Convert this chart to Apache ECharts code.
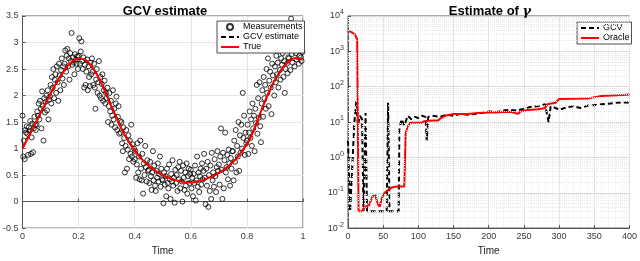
<!DOCTYPE html>
<html><head><meta charset="utf-8">
<script src="https://cdn.jsdelivr.net/npm/echarts@6/dist/echarts.min.js"></script>
<style>html,body{margin:0;padding:0;background:#fff}#c{width:640px;height:261px}</style>
</head><body><div id="c"></div>
<script>
// ---------- Left panel: measurements (400 samples on uniform grid over [0,1)) ----------
const measValue = [
 1.62,0.85,1.15,0.80,1.35,1.30,1.42,1.28,0.88,1.40,1.33,1.52,0.90,1.21,1.47,0.93,1.38,1.60,1.45,1.35,
 1.45,1.70,1.62,1.85,1.55,1.90,1.75,1.38,2.08,1.80,1.15,1.95,1.68,1.88,2.00,1.72,2.10,1.55,1.92,1.98,
 2.20,1.85,2.35,2.15,2.50,1.95,2.30,2.40,2.05,2.55,2.25,1.90,2.60,2.38,2.10,2.48,2.70,2.32,2.55,2.20,
 2.60,2.85,2.45,2.75,2.88,2.55,2.70,2.30,2.80,2.65,3.18,2.58,2.72,2.62,2.40,2.78,2.68,2.60,2.74,2.50,
 2.75,3.08,2.60,2.83,3.02,2.65,2.50,2.72,2.15,2.58,2.20,2.45,2.68,2.10,2.55,2.35,2.18,2.62,2.40,2.70,
 2.45,2.20,2.60,2.15,1.75,2.30,2.50,2.05,2.25,2.65,2.00,2.35,1.95,2.22,2.40,1.90,2.10,2.28,1.85,2.05,
 1.95,2.15,1.50,1.80,2.05,1.70,1.90,1.45,1.62,2.10,1.55,1.75,1.40,1.85,1.98,1.35,1.60,1.80,1.28,1.52,
 1.30,1.50,1.10,0.95,1.40,1.20,0.55,1.05,1.35,0.62,0.98,1.25,0.80,1.15,0.90,1.45,0.85,1.08,0.75,1.00,
 0.80,0.95,0.45,0.70,1.10,0.55,0.85,0.42,1.15,0.62,0.40,0.90,0.15,0.72,0.50,1.05,0.65,0.38,0.78,0.58,
 0.60,0.35,0.75,0.48,0.22,0.55,0.95,0.40,0.68,0.30,0.20,0.58,0.45,0.72,0.38,0.52,0.85,0.28,0.62,0.42,
 0.40,-0.03,0.55,0.32,0.48,0.10,0.62,0.35,0.25,0.70,0.42,0.05,0.52,0.38,0.78,0.30,0.45,-0.02,0.60,0.35,
 0.50,0.20,0.65,0.42,0.75,0.25,0.58,0.38,0.00,0.68,0.45,0.22,0.55,0.30,0.72,0.15,0.48,0.62,0.35,0.52,
 0.60,0.25,0.45,0.10,0.52,0.35,0.68,0.02,0.40,0.85,0.28,0.55,0.18,0.48,0.62,0.32,0.72,0.42,0.58,0.90,
 0.45,-0.05,0.62,0.30,0.75,-0.10,0.50,0.20,0.68,0.05,0.92,0.40,0.55,0.28,0.80,0.48,0.18,0.65,0.95,0.58,
 0.70,0.32,0.85,1.38,0.60,0.05,0.92,0.25,0.78,1.30,0.55,0.65,0.88,0.42,0.98,0.72,0.30,0.82,0.62,0.95,
 0.95,0.40,1.15,0.75,1.35,0.55,1.05,0.85,1.50,0.58,1.25,0.92,1.45,1.00,2.05,1.20,1.62,0.88,1.30,1.10,
 1.15,1.45,0.90,1.30,1.70,1.20,1.55,1.05,1.85,1.38,1.62,0.95,1.75,1.48,2.20,1.28,1.95,1.58,2.25,1.42,
 1.12,1.85,2.10,1.60,2.35,1.95,2.20,1.75,2.50,2.05,2.70,1.80,2.28,2.45,2.15,1.65,2.60,2.38,2.85,2.00,
 2.55,2.25,2.75,2.40,2.62,2.15,2.85,2.48,2.30,2.70,2.58,2.80,2.35,2.65,2.05,2.50,2.88,2.60,2.42,2.72,
 2.70,2.85,2.48,3.45,2.78,2.62,3.05,2.90,2.55,3.25,2.80,2.68,2.92,2.88,2.60,2.75,2.85,2.72,2.65,2.82
];
const trueTime  = [0,0.025,0.05,0.075,0.1,0.125,0.15,0.175,0.2,0.225,0.25,0.275,0.3,0.325,0.35,0.375,0.4,0.425,0.45,0.475,0.5,0.525,0.55,0.575,0.6,0.625,0.65,0.675,0.7,0.725,0.75,0.775,0.8,0.825,0.85,0.875,0.9,0.925,0.95,0.975,1.0];
const trueValue = [1.00,1.26,1.52,1.78,2.03,2.28,2.48,2.63,2.70,2.67,2.52,2.30,2.00,1.70,1.40,1.17,0.96,0.80,0.68,0.58,0.50,0.44,0.40,0.37,0.36,0.38,0.42,0.47,0.54,0.63,0.74,0.90,1.08,1.35,1.70,2.02,2.30,2.50,2.64,2.71,2.68];
const gcvEstValue = [1.01,1.27,1.52,1.78,2.03,2.27,2.47,2.62,2.69,2.66,2.52,2.30,2.01,1.71,1.41,1.17,0.97,0.80,0.68,0.58,0.50,0.44,0.40,0.38,0.37,0.38,0.42,0.47,0.54,0.63,0.75,0.90,1.09,1.35,1.69,2.01,2.29,2.50,2.64,2.70,2.67];

// ---------- Right panel: gamma estimates ----------
const gcvTime  = [0,3,6,9,12,14,17,20,22,25,27,55,57,59,72,73,76,80,85,90,95,100,105,110,112,114,120,130,140,150,160,170,180,190,200,210,220,230,240,250,260,270,280,285,288,295,300,310,320,330,340,350,360,370,380,390,400];
const gcvValue = [3,0.03,0.5,10,40,8,15,12,0.03,18,0.03,0.03,35,0.03,0.03,6,12,8,15,12,14,13,15,14,3,14,15,14,16,15,17,16,17,18,20,19,21,22,21,24,27,28,32,10,28,25,22,26,28,25,29,30,32,33,35,36,36];
const oracleTime  = [0,5,10,13,15,20,24,30,35,39,42,45,48,52,57,62,70,80,82,85,88,105,108,120,128,132,138,145,150,170,185,200,215,230,242,245,255,270,280,283,295,300,340,360,390,400];
const oracleValue = [3800,3500,3000,2200,0.03,0.03,0.04,0.045,0.08,0.085,0.05,0.04,0.07,0.1,0.12,0.14,0.15,0.15,5,7.5,9.5,9.5,10.5,11,11,13,15,16,17,17,18,18.5,19,19.5,17,20,22,23,25,32,35,45,46,55,58,60];
const decades = [-2,-1,0,1,2,3];
const minorMult = [2,3,4,5,6,7,8,9];

const FONT = 'Liberation Sans, Arial, Helvetica, sans-serif';
const zip = (a,b) => a.map((v,i)=>[v,b[i]]);
const N = measValue.length;
const measData = measValue.map((v,i)=>[i/N, v]);

const minorLines = [];
decades.forEach(d => minorMult.forEach(k => minorLines.push({yAxis: k*Math.pow(10,d)})));

const axisLabel = {color:'#3a3a3a', fontSize:9, fontFamily:FONT, margin:4};
const axisLine = {show:true, lineStyle:{color:'#555', width:1}};
const axisTick = {show:true, inside:true, length:3, lineStyle:{color:'#555'}};
const hideSym = {itemStyle:{opacity:0}};
const legendBase = {orient:'vertical', itemGap:0, itemWidth:18, itemHeight:6, padding:[1,2,1,3],
  backgroundColor:'#fff', borderColor:'#222', borderWidth:0.8, borderRadius:0,
  textStyle:{fontFamily:FONT, fontSize:9, color:'#000', lineHeight:10, padding:[0,0,0,-1]}};

const chart = echarts.init(document.getElementById('c'), null, {renderer:'canvas'});
chart.setOption({
  animation:false,
  backgroundColor:'#fff',
  title:[
    {text:'GCV estimate', left:160, top:0, textAlign:'center', textStyle:{fontFamily:FONT, fontSize:13, fontWeight:'bold', color:'#000'}},
    {text:'{a|Estimate of }{g|γ}', left:485, top:0, textAlign:'center', textStyle:{rich:{
      a:{fontFamily:FONT, fontSize:13, fontWeight:'bold', color:'#000'},
      g:{fontFamily:'DejaVu Serif, serif', fontSize:13, fontStyle:'italic', color:'#000'}}}}
  ],
  grid:[
    {left:18, top:16, width:285, height:224, show:true, borderColor:'#555', borderWidth:1, backgroundColor:'#fff'},
    {left:348, top:16, width:285, height:224, show:true, borderColor:'#555', borderWidth:1, backgroundColor:'#fff'}
  ],
  legend:[
    Object.assign({}, legendBase, {left:217, top:21,
      data:['Measurements', Object.assign({name:'GCV estimate'}, hideSym), Object.assign({name:'True'}, hideSym)]}),
    Object.assign({}, legendBase, {left:577, top:22,
      data:[Object.assign({name:'GCV'}, hideSym), Object.assign({name:'Oracle'}, hideSym)]})
  ],
  xAxis:[
    {type:'value', gridIndex:0, min:0, max:1, interval:0.2, name:'Time', nameLocation:'middle', nameGap:13,
     nameTextStyle:{fontFamily:FONT, fontSize:10, color:'#222'},
     axisLabel:Object.assign({}, axisLabel, {formatter:v=>String(Math.round(v*10)/10)}), axisLine, axisTick,
     splitLine:{show:true, lineStyle:{color:'#e6e6e6', width:1}}},
    {type:'value', gridIndex:1, min:0, max:400, interval:50, name:'Time', nameLocation:'middle', nameGap:13,
     nameTextStyle:{fontFamily:FONT, fontSize:10, color:'#222'},
     axisLabel, axisLine, axisTick,
     splitLine:{show:true, lineStyle:{color:'#e3e3e3', width:1}},
     minorTick:{show:false, splitNumber:5},
     minorSplitLine:{show:true, lineStyle:{color:'#eeeeee', type:'dotted', width:1}}}
  ],
  yAxis:[
    {type:'value', gridIndex:0, min:-0.5, max:3.5, interval:0.5,
     axisLabel:Object.assign({}, axisLabel, {formatter:v=>String(v)}), axisLine, axisTick,
     splitLine:{show:true, lineStyle:{color:'#e6e6e6', width:1}}},
    {type:'log', gridIndex:1, logBase:10, min:0.01, max:10000,
     axisLabel:Object.assign({}, axisLabel, {formatter:v=>'{b|10}{e|'+Math.round(Math.log10(v))+'}',
       rich:{b:{fontSize:9, fontFamily:FONT, color:'#3a3a3a'}, e:{fontSize:7, fontFamily:FONT, color:'#3a3a3a', verticalAlign:'bottom', padding:[0,0,7,0]}}}),
     axisLine, axisTick,
     splitLine:{show:true, lineStyle:{color:'#dcdcdc', width:1}}}
  ],
  series:[
    {name:'minor', type:'line', xAxisIndex:1, yAxisIndex:1, data:[], silent:true, z:1,
     markLine:{silent:true, symbol:'none', animation:false, label:{show:false},
       lineStyle:{color:'#e6e6e6', type:'dotted', width:1}, data:minorLines}},
    {name:'Measurements', type:'scatter', xAxisIndex:0, yAxisIndex:0, data:measData,
     symbol:'circle', symbolSize:5, itemStyle:{color:'rgba(255,255,255,0)', borderColor:'#000', borderWidth:1}, z:2},
    {name:'GCV estimate', type:'line', xAxisIndex:0, yAxisIndex:0, data:zip(trueTime,gcvEstValue),
     showSymbol:false, symbol:'none', smooth:true, lineStyle:{color:'#000', width:2, type:[5,3]}, itemStyle:{color:'#000'}, z:3},
    {name:'True', type:'line', xAxisIndex:0, yAxisIndex:0, data:zip(trueTime,trueValue),
     showSymbol:false, symbol:'none', smooth:true, lineStyle:{color:'#ff0000', width:2}, itemStyle:{color:'#ff0000'}, z:4},
    {name:'GCV', type:'line', xAxisIndex:1, yAxisIndex:1, data:zip(gcvTime,gcvValue),
     showSymbol:false, symbol:'none', lineStyle:{color:'#000', width:2, type:[5,3]}, itemStyle:{color:'#000'}, z:3},
    {name:'Oracle', type:'line', xAxisIndex:1, yAxisIndex:1, data:zip(oracleTime,oracleValue),
     showSymbol:false, symbol:'none', lineStyle:{color:'#ff0000', width:2}, itemStyle:{color:'#ff0000'}, z:4}
  ]
});
</script></body></html>
